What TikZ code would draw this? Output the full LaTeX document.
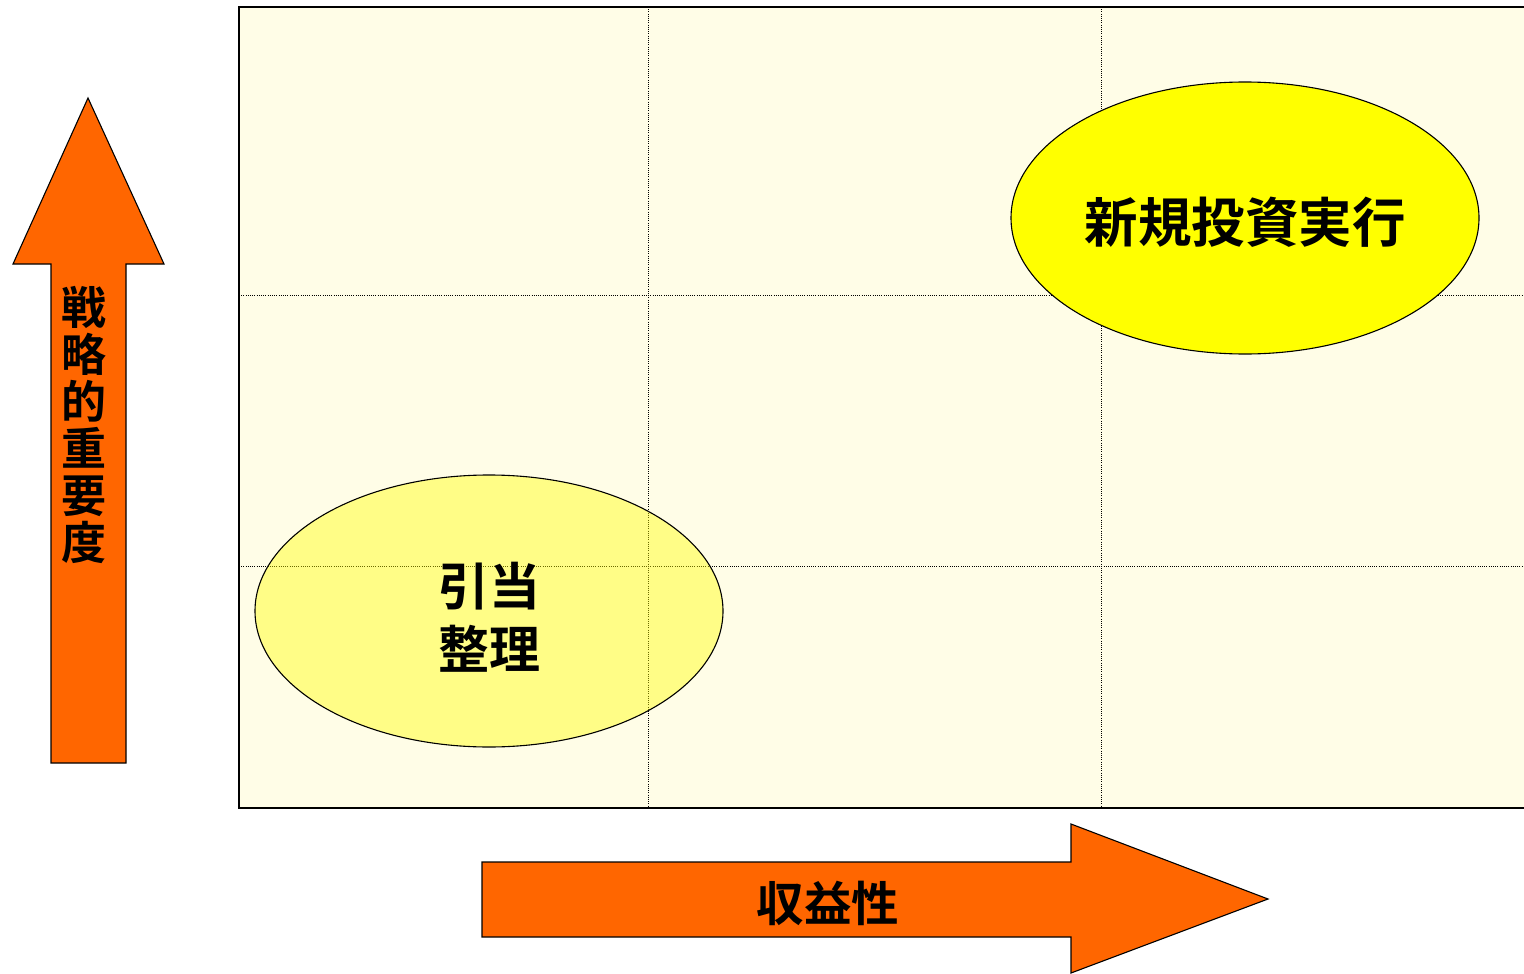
\documentclass[tikz,border=0pt]{standalone}
\usepackage{fontspec}
\newfontfamily\cjkb{Noto Sans CJK JP Bold}
\usetikzlibrary{shapes.geometric}
\definecolor{bgyellow}{RGB}{255,253,231}
\definecolor{arroworange}{RGB}{255,102,0}
\definecolor{ovalyellow}{RGB}{255,255,0}
\tikzset{
  gridline/.style={line width=1pt, dash pattern=on 1pt off 1.2pt},
  bigarrow/.style={fill=arroworange, draw=black, line width=1.1pt, line join=miter},
  oval/.style={ellipse, draw=black, line width=1.1pt, minimum width=468pt, minimum height=272pt, inner sep=0pt},
  label/.style={font=\cjkb, align=center, text=black, inner sep=0pt}
}
\begin{document}
\begin{tikzpicture}[x=1pt,y=-1pt]
\useasboundingbox (0,0) rectangle (1524,974);
% chart area
\fill[bgyellow] (239,7) rectangle (1524,808);
\draw[gridline] (648,7) -- (648,808);
\draw[gridline] (1101,7) -- (1101,808);
\draw[gridline] (239,295) -- (1524,295);
\draw[gridline] (239,566) -- (1524,566);
\draw[line width=1.2pt] (1524,7) -- (239,7) -- (239,808) -- (1524,808);
% ellipses
\node[oval, fill=ovalyellow] (new) at (1245,218) {};
\node[label, font=\cjkb\fontsize{53.5}{60}\selectfont] (newt) at (1245,222) {新規投資実行};
\node[oval, fill=ovalyellow, fill opacity=0.42] (old) at (489,611) {};
\node[label, font=\cjkb\fontsize{51}{63}\selectfont] (oldt) at (489,617) {引当\\整理};
% vertical arrow
\draw[bigarrow] (51,763) -- (51,264) -- (13,264) -- (88,98) -- (164,264) -- (126,264) -- (126,763) -- cycle;
\node[label, font=\cjkb\fontsize{45}{47}\selectfont] (vt) at (84,425) {戦\\略\\的\\重\\要\\度};
% horizontal arrow
\draw[bigarrow] (482,862) -- (1071,862) -- (1071,824) -- (1268,899) -- (1071,973) -- (1071,937) -- (482,937) -- cycle;
\node[label, font=\cjkb\fontsize{47.5}{50}\selectfont] (ht) at (828,903) {収益性};
\end{tikzpicture}
\end{document}
